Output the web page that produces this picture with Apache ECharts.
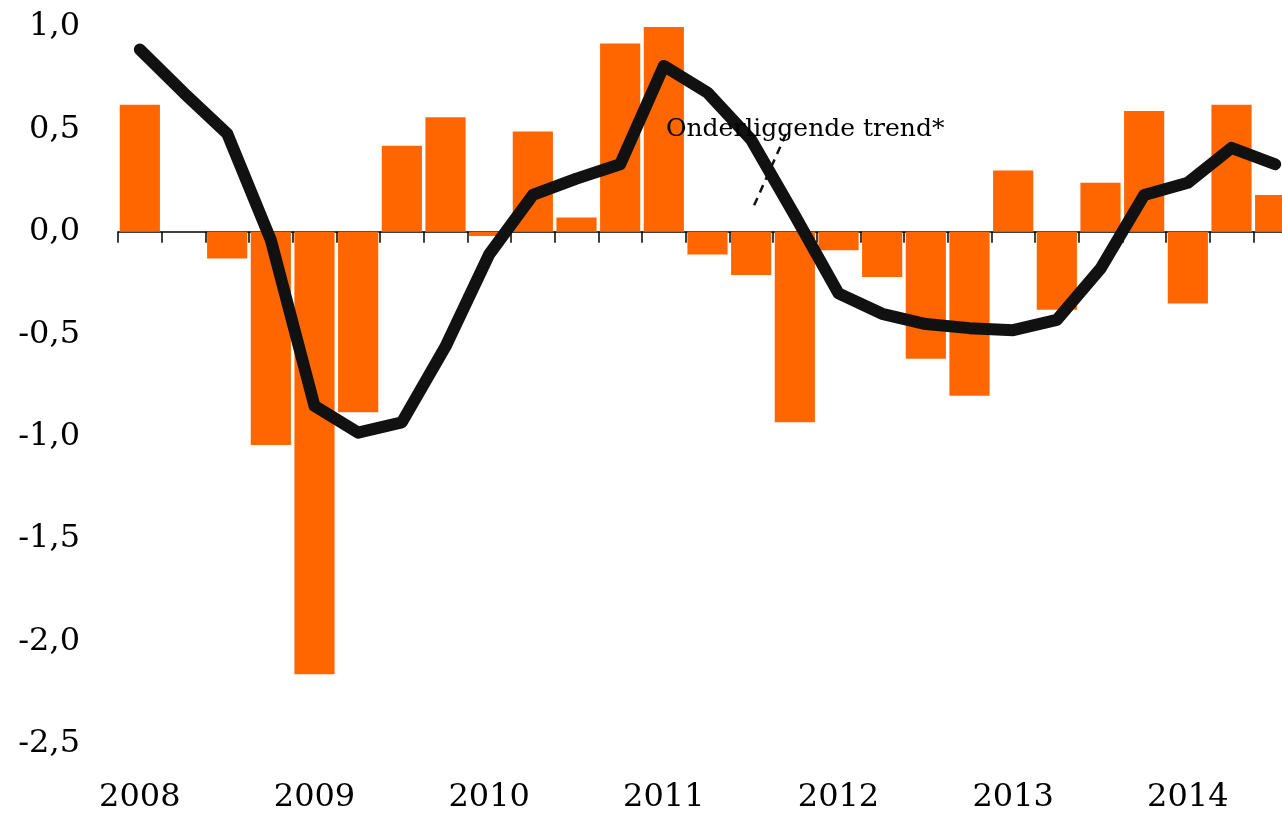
<!DOCTYPE html>
<html>
<head>
<meta charset="utf-8">
<script src="https://cdn.jsdelivr.net/npm/echarts@6/dist/echarts.min.js"></script>
<style>
  html, body { margin: 0; padding: 0; background: #fff; }
  #chart { width: 1282px; height: 814px; }
</style>
</head>
<body>
<div id="chart"></div>
<script>
// kwartalen 2008 K1 t/m 2014 K3
var quarters = [
  '2008 K1','2008 K2','2008 K3','2008 K4',
  '2009 K1','2009 K2','2009 K3','2009 K4',
  '2010 K1','2010 K2','2010 K3','2010 K4',
  '2011 K1','2011 K2','2011 K3','2011 K4',
  '2012 K1','2012 K2','2012 K3','2012 K4',
  '2013 K1','2013 K2','2013 K3','2013 K4',
  '2014 K1','2014 K2','2014 K3'
];
// kwartaalmutaties (staven)
var growth = [
  0.62, 0.0, -0.13, -1.04,
  -2.16, -0.88, 0.42, 0.56,
  -0.02, 0.49, 0.07, 0.92,
  1.02, -0.11, -0.21, -0.93,
  -0.09, -0.22, -0.62, -0.80,
  0.30, -0.38, 0.24, 0.59,
  -0.35, 0.62, 0.18
];
// onderliggende trend (lijn)
var trend = [
  0.89, 0.68, 0.48, -0.04,
  -0.85, -0.98, -0.93, -0.56,
  -0.11, 0.18, 0.26, 0.33,
  0.81, 0.68, 0.45, 0.08,
  -0.30, -0.40, -0.45, -0.47,
  -0.48, -0.43, -0.18, 0.18,
  0.24, 0.41, 0.33
];

var chart = echarts.init(document.getElementById('chart'));
var labelFont = 'DejaVu Serif';

var option = {
  animation: false,
  grid: { left: 118, top: 27, right: -15, bottom: 70, outerBoundsMode: 'none', containLabel: false },
  xAxis: [
    {
      type: 'category',
      data: quarters,
      axisLine: { onZero: true, lineStyle: { color: '#000', width: 1.5 } },
      axisTick: { show: true, length: 11, interval: 0, lineStyle: { color: '#000', width: 1.5 } },
      axisLabel: { show: false },
      splitLine: { show: false }
    },
    {
      type: 'category',
      data: quarters,
      position: 'bottom',
      axisLine: { show: false, onZero: false },
      axisTick: { show: false },
      axisLabel: {
        interval: 3,
        margin: 38,
        color: '#000',
        fontFamily: labelFont,
        fontSize: 32,
        formatter: function (v) { return v.slice(0, 4); }
      }
    }
  ],
  yAxis: {
    type: 'value',
    min: -2.5,
    max: 1.0,
    interval: 0.5,
    axisLine: { show: false },
    axisTick: { show: false },
    splitLine: { show: false },
    axisLabel: {
      margin: 38,
      color: '#000',
      fontFamily: labelFont,
      fontSize: 32,
      formatter: function (v) { return v.toFixed(1).replace('.', ','); }
    }
  },
  series: [
    {
      type: 'bar',
      data: growth,
      barCategoryGap: '8%',
      itemStyle: { color: '#FF6600' }
    },
    {
      type: 'line',
      data: trend,
      symbol: 'none',
      z: 5,
      lineStyle: { color: '#111', width: 12, cap: 'round', join: 'round' }
    }
  ],
  graphic: [
    {
      type: 'line',
      z: 10,
      shape: { x1: 786, y1: 134, x2: 752, y2: 210 },
      style: { stroke: '#111', lineWidth: 2.5, lineDash: [8, 6] }
    },
    {
      type: 'text',
      z: 11,
      left: 666,
      top: 117,
      style: {
        text: 'Onderliggende trend*',
        fill: '#000',
        font: '25px "DejaVu Serif"'
      }
    }
  ]
};

chart.setOption(option);
</script>
</body>
</html>
